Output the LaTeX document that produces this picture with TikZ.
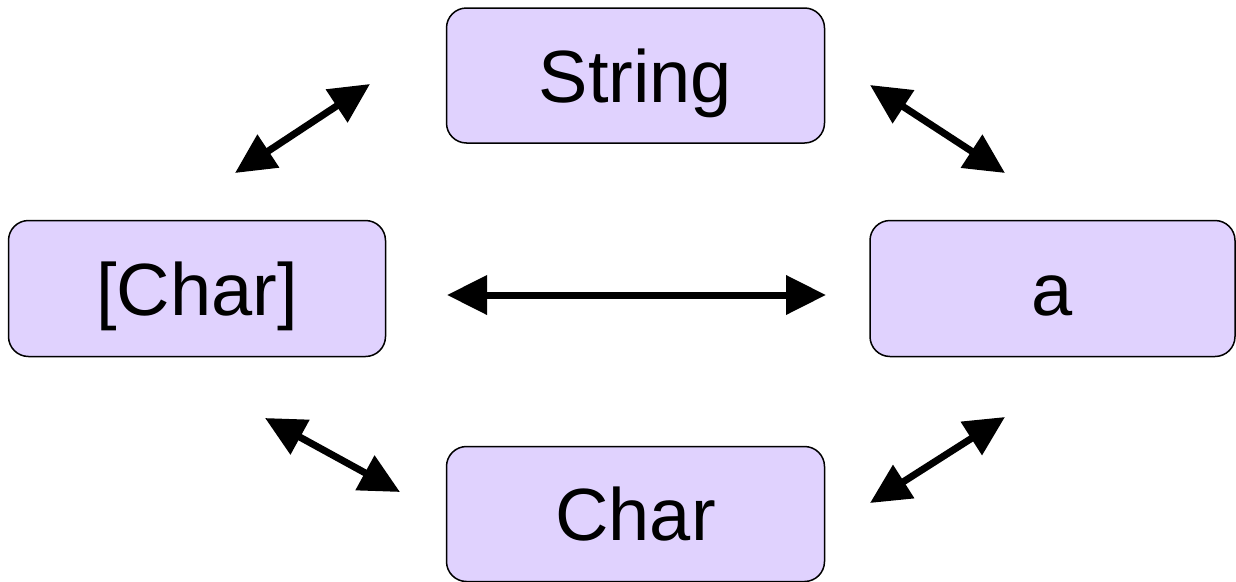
\documentclass[tikz,border=0pt]{standalone}
\usepackage{fontspec}
\setmainfont{Liberation Sans}
\usetikzlibrary{arrows.meta}
\definecolor{boxfill}{HTML}{E0D2FE}
\begin{document}
\begin{tikzpicture}[x=1pt,y=-1pt,
  box/.style={draw=black, line width=1.5pt, fill=boxfill, rounded corners=20pt,
    minimum height=135pt, inner sep=0pt, text height=53pt, text depth=0pt,
    font=\fontsize{74}{88}\selectfont},
  conn/.style={line width=7pt, {Triangle[length=40pt,width=38pt]}-{Triangle[length=40pt,width=38pt]}}]
\useasboundingbox (0,0) rectangle (1236,581);
\node[box, minimum width=378pt] (string) at (635.5,75.5) {String};
\node[box, minimum width=377pt, minimum height=136pt] (list) at (197,288.5) {[Char]};
\node[box, minimum width=365pt, minimum height=136pt] (a) at (1052.5,288.5) {a};
\node[box, minimum width=378pt] (char) at (635.5,514) {Char};
\coordinate (tl1) at (235,173); \coordinate (tl2) at (370,84);
\coordinate (tr1) at (870,85); \coordinate (tr2) at (1005,173);
\coordinate (m1) at (447,295); \coordinate (m2) at (826,295);
\coordinate (bl1) at (265,418); \coordinate (bl2) at (400,492);
\coordinate (br1) at (870,503); \coordinate (br2) at (1005,417);
\draw[conn] (tl1) -- (tl2);
\draw[conn] (tr1) -- (tr2);
\draw[conn] (m1) -- (m2);
\draw[conn] (bl1) -- (bl2);
\draw[conn] (br1) -- (br2);
\end{tikzpicture}
\end{document}
